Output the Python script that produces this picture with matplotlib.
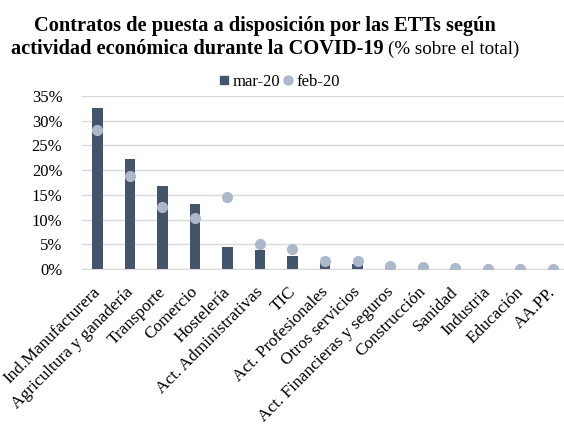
import numpy as np
import matplotlib.pyplot as plt
from matplotlib.lines import Line2D
from matplotlib.transforms import ScaledTranslation

plt.rcParams['font.family'] = ['Liberation Serif', 'DejaVu Serif']

categorias = ['Ind.Manufacturera', 'Agricultura y ganadería', 'Transporte', 'Comercio',
              'Hostelería', 'Act. Administrativas', 'TIC', 'Act. Profesionales',
              'Otros servicios', 'Act. Financieras y seguros', 'Construcción', 'Sanidad',
              'Industria', 'Educación', 'AA.PP.']
mar20 = [32.6, 22.3, 16.8, 13.2, 4.5, 3.9, 2.6, 1.4, 1.0, 0.2, 0.1, 0.1, 0.05, 0.03, 0.0]
feb20 = [28.2, 18.9, 12.6, 10.4, 14.6, 5.0, 4.1, 1.6, 1.7, 0.7, 0.4, 0.15, 0.1, 0.1, 0.0]

col_bar = '#44546A'
col_dot = '#ADB9CA'

fig = plt.figure(figsize=(5.64, 4.30), dpi=100)
ax = fig.add_axes([0.145, 0.374, 0.855, 0.403])

x = np.arange(len(categorias))
ax.bar(x, mar20, width=0.32, color=col_bar, zorder=2)
ax.plot(x, feb20, 'o', color=col_dot, markersize=7, zorder=3)

ax.set_ylim(0, 35)
ax.set_xlim(-0.48, 14.35)
ax.set_yticks(range(0, 36, 5))
ax.set_yticklabels([f'{v}%' for v in range(0, 36, 5)], fontsize=12)
ax.yaxis.grid(True, color='#D9D9D9', linewidth=1, zorder=0)
ax.set_axisbelow(True)
for s in ['top', 'right', 'left']:
    ax.spines[s].set_visible(False)
ax.spines['bottom'].set_color('#D9D9D9')
ax.tick_params(axis='both', length=0)
ax.tick_params(axis='y', pad=14)

ax.set_xticks(x)
ax.set_xticklabels(categorias, rotation=45, ha='right', va='top',
                   rotation_mode='anchor', fontsize=12.4)
desplaza = ScaledTranslation(-0.05, -0.10, fig.dpi_scale_trans)
for lab in ax.get_xticklabels():
    lab.set_transform(lab.get_transform() + desplaza)

# leyenda
handles = [Line2D([], [], marker='s', linestyle='none', color=col_bar, markersize=5.5),
           Line2D([], [], marker='o', linestyle='none', color=col_dot, markersize=6.5)]
fig.legend(handles, ['mar-20', 'feb-20'], loc='center', bbox_to_anchor=(0.496, 1 - 82 / 430),
           ncol=2, frameon=False, fontsize=12, handlelength=0.5, handletextpad=0.25,
           columnspacing=0.2, borderaxespad=0)

# titulo
fig.text(0.47, 1 - 31 / 430, 'Contratos de puesta a disposición por las ETTs según',
         ha='center', va='baseline', fontsize=14.7, fontweight='bold')
fig.canvas.draw()
r = fig.canvas.get_renderer()
t1 = fig.text(0, 1 - 54 / 430, 'actividad económica durante la COVID-19 ',
              ha='left', va='baseline', fontsize=14.7, fontweight='bold')
t2 = fig.text(0, 1 - 54 / 430, '(% sobre el total)', ha='left', va='baseline', fontsize=13.7)
w1 = t1.get_window_extent(r).width
w2 = t2.get_window_extent(r).width
x0 = 0.47 * fig.bbox.width - (w1 + w2) / 2
t1.set_x(x0 / fig.bbox.width)
t2.set_x((x0 + w1) / fig.bbox.width)

fig.savefig('out.png', dpi=100)
